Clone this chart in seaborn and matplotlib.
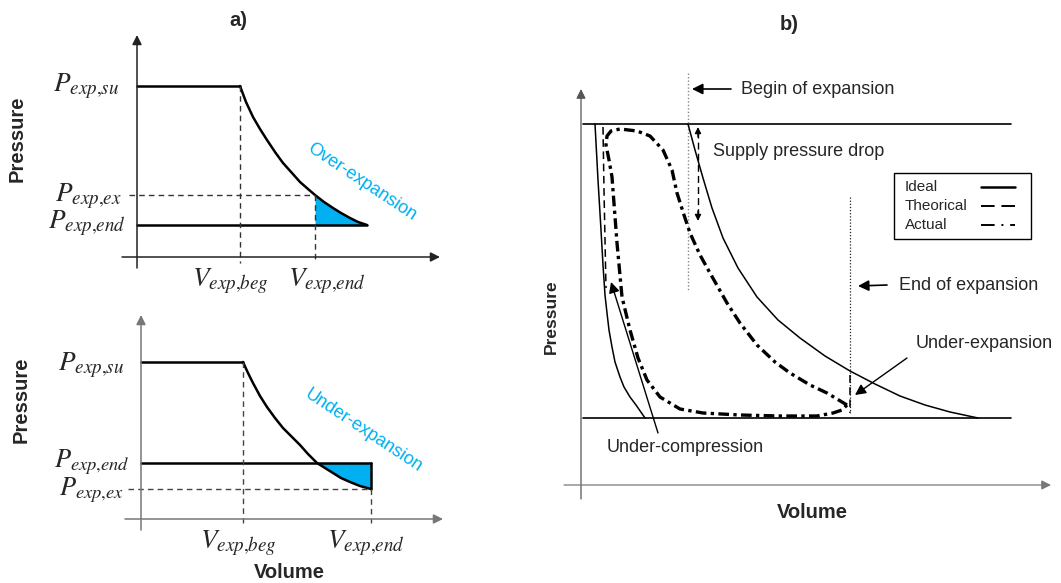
import numpy as np
import pandas as pd
import matplotlib
matplotlib.use("Agg")
import matplotlib.pyplot as plt
import seaborn as sns
from matplotlib.patches import Rectangle

sns.set_theme(style="white")
plt.rcParams['font.family'] = ['Liberation Sans', 'DejaVu Sans']
plt.rcParams['mathtext.fontset'] = 'stix'

BLUE = '#00B0F0'

# ---------------- data (schematic units: volume -> x, pressure -> y, screen-like) ----------
# Panel a) top : over-expansion
a1_origin_v = 137
a1_axis_p = 257
a1_p_su = 86
a1_p_ex = 195
a1_p_end = 225
a1_v_beg = 240
a1_v_end = 315
a1_curve_v = [240, 246, 253, 260, 267, 275, 283, 292, 300, 308, 315, 324, 333, 341, 350, 358, 367]
a1_curve_p = [86, 102, 117, 129, 140, 152, 163, 173, 182, 189, 195, 202, 208, 213, 218, 222, 225]

# Panel a) bottom : under-expansion
a2_origin_v = 141
a2_axis_p = 519
a2_p_su = 362
a2_p_end = 463
a2_p_ex = 489
a2_v_beg = 243
a2_v_end = 371
a2_curve_v = [243, 248, 253, 260, 267, 275, 283, 292, 300, 308, 317, 325, 333, 341, 350, 360, 371]
a2_curve_p = [362, 373, 383, 396, 407, 418, 428, 437, 445, 454, 463, 468, 473, 478, 482, 486, 489]

# Panel b)
b_origin_v = 581
b_axis_p = 485
b_p_high = 124
b_p_low = 418
b_v_begin = 688
b_v_endexp = 850
b_ideal_exp_v = [688, 695, 703, 712, 723, 738, 757, 778, 800, 825, 850, 875, 900, 925, 950, 978]
b_ideal_exp_p = [124, 150, 178, 208, 238, 268, 297, 320, 338, 356, 371, 384, 396, 405, 412, 418]
b_ideal_comp_v = [595, 598, 601, 603, 605, 607, 609, 612, 615, 620, 624, 630, 636, 645]
b_ideal_comp_p = [124, 180, 230, 265, 295, 313, 330, 347, 362, 377, 387, 397, 405, 418]
b_theo_comp_v = [603, 604, 605, 606]
b_theo_comp_p = [127, 190, 240, 288]
b_theo_drop_v = [850, 850]
b_theo_drop_p = [375, 413]
b_actual_v = [847, 827, 810, 790, 775, 757, 740, 727, 710, 700, 690, 684, 677, 672, 663, 650, 637,
              620, 611, 607, 606, 609, 612, 617, 622, 630, 638, 647, 660, 680, 703, 740, 780, 817,
              833, 842, 847]
b_actual_p = [405, 393, 385, 373, 362, 345, 323, 303, 273, 255, 233, 215, 193, 170, 150, 136, 131,
              129, 131, 136, 145, 160, 177, 243, 297, 330, 358, 380, 397, 409, 413, 415, 416, 416,
              413, 410, 405]

legend_labels = ['Ideal', 'Theorical', 'Actual']

# ---------------------------------------------------------------------------------------------
fig = plt.figure(figsize=(10.61, 5.83), dpi=100)
ax = fig.add_axes([0, 0, 1, 1])


def line(x, y, color='black', lw=1.5, ls='-', **kw):
    sns.lineplot(x=x, y=y, ax=ax, sort=False, estimator=None, color=color,
                 linewidth=lw, linestyle=ls, **kw)


def arrow(tip, tail, color='black', lw=1.2, ms=14, style='-|>'):
    ax.annotate('', xy=tip, xytext=tail,
                arrowprops=dict(arrowstyle=style, color=color, lw=lw, mutation_scale=ms,
                                shrinkA=0, shrinkB=0))


def symlabel(x_left, y_base, main, sub, fs=19.5):
    ax.text(x_left, y_base, '$' + main + '_{' + sub + '}$', fontsize=fs,
            ha='left', va='baseline')


# ================= Panel a) top =================
arrow((a1_origin_v, 35), (a1_origin_v, 268), color='#222', lw=1.1)
arrow((440, a1_axis_p), (122, a1_axis_p), color='#222', lw=1.1)
ax.fill_between(a1_curve_v[10:], a1_curve_p[10:], a1_p_end, color=BLUE, lw=0)
line([a1_origin_v, a1_v_beg], [a1_p_su, a1_p_su], lw=1.8)
line(a1_curve_v, a1_curve_p, lw=1.8)
line([a1_origin_v, a1_curve_v[-1]], [a1_p_end, a1_p_end], lw=1.8)
dash = (0, (4, 3))
line([129, a1_v_end], [a1_p_ex, a1_p_ex], color='#333', lw=1.0, ls=dash)
line([a1_v_beg, a1_v_beg], [a1_p_su, 263], color='#333', lw=1.0, ls=dash)
line([a1_v_end, a1_v_end], [a1_p_ex, 263], color='#333', lw=1.0, ls=dash)

symlabel(53, 91, 'P', 'exp{,}su')
symlabel(55, 201, 'P', 'exp{,}ex')
symlabel(48, 228, 'P', 'exp{,}end')
symlabel(192, 286, 'V', 'exp{,}beg')
symlabel(288, 286, 'V', 'exp{,}end')
ax.text(362, 182, 'Over-expansion', color=BLUE, fontsize=13, rotation=-33.5,
        ha='center', va='center', rotation_mode='anchor')
ax.text(17, 139, 'Pressure', fontsize=14.5, fontweight='bold', rotation=90,
        ha='center', va='center')
ax.text(238, 20, 'a)', fontsize=14.5, fontweight='bold', ha='center', va='center')

# ================= Panel a) bottom =================
arrow((a2_origin_v, 315), (a2_origin_v, 530), color='#777', lw=1.1)
arrow((443, a2_axis_p), (125, a2_axis_p), color='#777', lw=1.1)
ax.fill_between(a2_curve_v[10:], a2_curve_p[10:], a2_p_end, color=BLUE, lw=0)
line([a2_origin_v, a2_v_beg], [a2_p_su, a2_p_su], lw=1.8)
line(a2_curve_v, a2_curve_p, lw=1.8)
line([a2_origin_v, a2_v_end], [a2_p_end, a2_p_end], lw=1.8)
line([a2_v_end, a2_v_end], [a2_p_end, a2_p_ex], lw=1.8)
line([128, a2_v_end], [a2_p_ex, a2_p_ex], color='#444', lw=1.0, ls=dash)
line([a2_v_beg, a2_v_beg], [a2_p_su, 523], color='#444', lw=1.0, ls=dash)
line([a2_v_end, a2_v_end], [a2_p_ex, 523], color='#444', lw=1.0, ls=dash)

symlabel(58, 370, 'P', 'exp{,}su')
symlabel(54, 467, 'P', 'exp{,}end', fs=19)
symlabel(59, 495, 'P', 'exp{,}ex', fs=19)
symlabel(200, 548, 'V', 'exp{,}beg')
symlabel(327, 548, 'V', 'exp{,}end')
ax.text(363, 431, 'Under-expansion', color=BLUE, fontsize=13, rotation=-33.5,
        ha='center', va='center', rotation_mode='anchor')
ax.text(21, 400, 'Pressure', fontsize=14.5, fontweight='bold', rotation=90,
        ha='center', va='center')
ax.text(289, 572, 'Volume', fontsize=14.5, fontweight='bold', ha='center', va='center')

# ================= Panel b) =================
arrow((b_origin_v, 89), (b_origin_v, 499), color='#555', lw=0.9)
arrow((1051, b_axis_p), (564, b_axis_p), color='#777', lw=0.9)
line([583, 1011], [b_p_high, b_p_high], lw=1.2)
line([583, 1011], [b_p_low, b_p_low], lw=1.2)
line([b_v_begin, b_v_begin], [73, 290], color='#888', lw=1.0, ls=(0, (1, 1.5)))
line([b_v_endexp, b_v_endexp], [197, 413], color='#222', lw=0.9, ls=(0, (1, 1.5)))
line(b_ideal_exp_v, b_ideal_exp_p, lw=1.1)
line(b_ideal_comp_v, b_ideal_comp_p, lw=1.1)
line(b_theo_comp_v, b_theo_comp_p, lw=1.1, ls=(0, (5, 3)))
line(b_theo_drop_v, b_theo_drop_p, lw=1.1, ls=(0, (5, 3)))
line(b_actual_v, b_actual_p, lw=2.4, ls=(0, (3.2, 1.3, 1.0, 1.3)))

# supply pressure drop double arrow
line([698, 698], [131, 216], lw=1.0, ls=(0, (5, 3)))
arrow((698, 127), (698, 137), ms=9, lw=1.0)
arrow((698, 221), (698, 211), ms=9, lw=1.0)

tfs = 13
arrow((692, 89), (731, 89), lw=1.2, ms=16)
ax.text(741, 89, 'Begin of expansion', fontsize=tfs, ha='left', va='center')
ax.text(713, 152, 'Supply pressure drop', fontsize=tfs, ha='left', va='center')
arrow((858, 286), (887, 285), lw=1.2, ms=16)
ax.text(899, 285, 'End of expansion', fontsize=tfs, ha='left', va='center')
arrow((855, 395), (907, 358), lw=1.0, ms=16)
ax.text(916, 343, 'Under-expansion', fontsize=tfs, ha='left', va='center')
arrow((611, 282), (658, 433), lw=1.0, ms=16)
ax.text(607, 448, 'Under-compression', fontsize=tfs, ha='left', va='center')
ax.text(551, 317, 'Pressure', fontsize=12.5, fontweight='bold', rotation=90,
        ha='center', va='center')
ax.text(812, 513, 'Volume', fontsize=14.5, fontweight='bold', ha='center', va='center')
ax.text(789, 25, 'b)', fontsize=14.5, fontweight='bold', ha='center', va='center')

# legend box (text left, line sample right)
ax.add_patch(Rectangle((894, 173), 137, 66, fill=False, edgecolor='black', lw=1.0))
legend_styles = ['-', (0, (7, 3.5)), (0, (7, 3.5, 1.0, 3.5, 3, 3))]
legend_rows = [187, 206, 225]
for lab, ls, yrow in zip(legend_labels, legend_styles, legend_rows):
    ax.text(905, yrow, lab, fontsize=11, ha='left', va='center')
    line([981, 1015], [yrow, yrow], lw=1.4 if ls != '-' else 1.8, ls=ls)

ax.set_xlim(0, 1061)
ax.set_ylim(583, 0)
ax.axis('off')
fig.savefig('out.png', dpi=100)
